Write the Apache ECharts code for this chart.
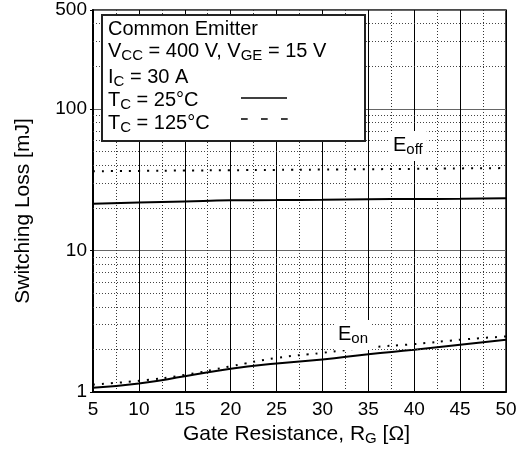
<!DOCTYPE html>
<html>
<head>
<meta charset="utf-8">
<script src="https://cdn.jsdelivr.net/npm/echarts@6/dist/echarts.min.js"></script>
<style>
html, body { margin: 0; padding: 0; background: #fff; }
#chart { width: 522px; height: 453px; }
</style>
</head>
<body>
<div id="chart"></div>
<script>
// gate resistance [ohm]
var rg = [5, 10, 15, 20, 25, 30, 35, 40, 45, 50];
// switching loss [mJ]
var eoff25 = [21.4, 21.8, 22.2, 22.6, 22.7, 22.8, 23.0, 23.1, 23.2, 23.4];
var eoff125 = [36.3, 36.5, 36.7, 36.9, 37.1, 37.3, 37.5, 37.7, 38.0, 38.2];
var eon25 = [1.07, 1.15, 1.29, 1.46, 1.59, 1.70, 1.85, 1.99, 2.16, 2.34];
var eon125 = [1.13, 1.20, 1.32, 1.52, 1.74, 1.89, 2.06, 2.18, 2.34, 2.47];
// minor log gridlines
var minorY = [2, 3, 4, 5, 6, 7, 8, 9, 20, 30, 40, 50, 60, 70, 80, 90, 200, 300, 400];

function pairs(ys) {
	return rg.map(function(x, i) {
		return [ x, ys[i] ];
	});
}

var font = '"Liberation Sans", Arial, Helvetica, sans-serif';
var txt = { fontSize : 20, lineHeight : 24, verticalAlign : 'middle', fontFamily : font, color : '#000' };
var sub = { fontSize : 15, lineHeight : 10, verticalAlign : 'bottom', fontFamily : font, color : '#000' };
var atxt = { fontSize : 21, lineHeight : 24, verticalAlign : 'middle', fontFamily : font, color : '#000' };
var asub = { fontSize : 15, lineHeight : 10, verticalAlign : 'bottom', fontFamily : font, color : '#000' };

function label(x, y, text, bg) {
	return {
		type : 'text',
		x : x,
		y : y,
		z : 110,
		style : {
			text : text,
			align : 'left',
			verticalAlign : 'top',
			backgroundColor : bg ? '#fff' : null,
			padding : bg ? [ 2, 4, 4, 4 ] : 0,
			rich : { a : txt, s : sub }
		}
	};
}

var myChart = echarts.init(document.getElementById('chart'));

var option = {
	animation : false,
	grid : {
		left : 93,
		right : 16,
		top : 10,
		bottom : 61,
		show : true,
		borderColor : '#111',
		borderWidth : 1.5
	},
	xAxis : {
		type : 'value',
		min : 5,
		max : 50,
		interval : 5,
		axisLine : { lineStyle : { color : '#000', width : 2 } },
		axisTick : { show : false },
		minorTick : { show : false, splitNumber : 2 },
		axisLabel : { fontSize : 19, fontFamily : font, color : '#000', margin : 8 },
		splitLine : { lineStyle : { color : '#000', width : 1 } },
		minorSplitLine : { show : true, lineStyle : { color : '#333', width : 1, type : [ 1, 2 ] } },
		name : '{a|Gate Resistance, R}{s|G}{a| [Ω]}',
		nameLocation : 'middle',
		nameGap : 30,
		nameTextStyle : { padding : [ 0, 6, 0, 0 ], rich : { a : atxt, s : asub } }
	},
	yAxis : {
		type : 'log',
		logBase : 10,
		min : 1,
		max : 500,
		axisLine : { lineStyle : { color : '#000', width : 2 } },
		axisTick : { show : true, length : 3, lineStyle : { color : '#000' } },
		axisLabel : { fontSize : 19, fontFamily : font, color : '#000', margin : 6 },
		splitLine : { lineStyle : { color : '#666', width : 1.2 } },
		name : 'Switching Loss [mJ]',
		nameLocation : 'middle',
		nameGap : 59,
		nameTextStyle : { fontSize : 21, fontFamily : font, color : '#000', padding : [ 0, 20, 0, 0 ] }
	},
	series : [ {
		type : 'line',
		data : [],
		silent : true,
		markLine : {
			silent : true,
			symbol : 'none',
			label : { show : false },
			lineStyle : { color : '#444', width : 1, type : [ 1, 2 ] },
			data : minorY.map(function(v) {
				return { yAxis : v };
			})
		}
	}, {
		name : 'Eoff 25',
		type : 'line',
		data : pairs(eoff25),
		showSymbol : false,
		smooth : true,
		lineStyle : { color : '#000', width : 2 }
	}, {
		name : 'Eoff 125',
		type : 'line',
		data : pairs(eoff125),
		showSymbol : false,
		smooth : true,
		lineStyle : { color : '#000', width : 2, type : [ 2, 7 ] }
	}, {
		name : 'Eon 25',
		type : 'line',
		data : pairs(eon25),
		showSymbol : false,
		smooth : true,
		lineStyle : { color : '#000', width : 2 }
	}, {
		name : 'Eon 125',
		type : 'line',
		data : pairs(eon125),
		showSymbol : false,
		smooth : true,
		lineStyle : { color : '#000', width : 2, type : [ 2, 7 ] }
	} ],
	graphic : [
		{
			type : 'rect',
			z : 100,
			shape : { x : 102, y : 15, width : 263, height : 126 },
			style : { fill : '#fff', stroke : '#222', lineWidth : 2 }
		},
		label(108, 17, '{a|Common Emitter}'),
		label(108, 39, '{a|V}{s|CC}{a| = 400 V, V}{s|GE}{a| = 15 V}'),
		label(108, 65, '{a|I}{s|C}{a| = 30 A}'),
		label(108, 88, '{a|T}{s|C}{a| = 25°C}'),
		label(108, 111, '{a|T}{s|C}{a| = 125°C}'),
		{
			type : 'line',
			z : 110,
			shape : { x1 : 241, y1 : 98, x2 : 287, y2 : 98 },
			style : { stroke : '#000', lineWidth : 1.5 }
		},
		{
			type : 'line',
			z : 110,
			shape : { x1 : 241, y1 : 119, x2 : 288, y2 : 119 },
			style : { stroke : '#000', lineWidth : 1.5, lineDash : [ 6.7, 13.3 ] }
		},
		label(389, 131, '{a|E}{s|off}', true),
		label(334, 320, '{a|E}{s|on}', true)
	]
};

myChart.setOption(option);
</script>
</body>
</html>
